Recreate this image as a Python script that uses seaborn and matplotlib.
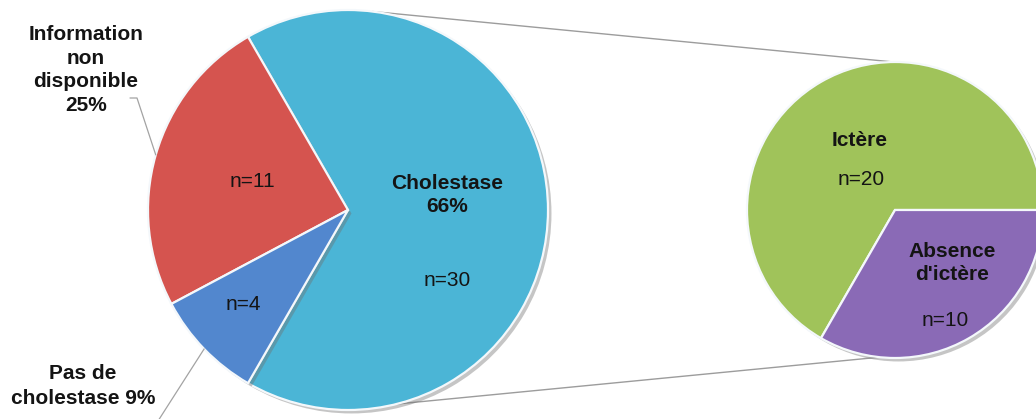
import matplotlib
matplotlib.use("Agg")
import matplotlib.pyplot as plt
import matplotlib.patheffects as pe
import numpy as np
import seaborn as sns

# Répartition des patients (camembert principal)
main_labels = ["Cholestase", "Information\nnon\ndisponible", "Pas de\ncholestase"]
main_counts = [30, 11, 4]
main_pcts = [66, 25, 9]

# Détail des patients avec cholestase (camembert secondaire)
sub_labels = ["Ictère", "Absence\nd'ictère"]
sub_counts = [20, 10]

main_colors = ["#4BB5D6", "#D5544F", "#5287CE"]
sub_colors = ["#A0C35A", "#8A6AB6"]

sns.set_theme(style="white")
plt.rcParams["font.family"] = ["Liberation Sans", "DejaVu Sans"]

W, H = 1036, 419
fig = plt.figure(figsize=(W / 100, H / 100), dpi=100)
ax = fig.add_axes([0, 0, 1, 1])


def px(x, y):
    """Canvas position measured from the top-left corner."""
    return x, H - y


main_c = px(348, 210)
main_r = 200
sub_c = px(895, 210)
sub_r = 148

shadow = [pe.SimplePatchShadow(offset=(2.5, -2.5), shadow_rgbFace="#6f6f6f", alpha=0.4),
          pe.Normal()]
wedge_style = dict(edgecolor="#F4F8FB", linewidth=1.6, path_effects=shadow)

main_wedges, _ = ax.pie(main_counts, colors=main_colors, startangle=240,
                        counterclock=True, center=main_c, radius=main_r,
                        wedgeprops=wedge_style)
sub_wedges, _ = ax.pie(sub_counts, colors=sub_colors, startangle=0,
                       counterclock=True, center=sub_c, radius=sub_r,
                       wedgeprops=wedge_style)


def on_circle(center, r, deg):
    a = np.deg2rad(deg)
    return center[0] + r * np.cos(a), center[1] + r * np.sin(a)


# Lines joining the cholestase slice to the secondary pie
line_kw = dict(color="#9C9C9C", lw=1.0, zorder=0.5)
for a_main, a_sub in [(83, 90.5), (-76, 264)]:
    p0 = on_circle(main_c, main_r, a_main)
    p1 = on_circle(sub_c, sub_r, a_sub)
    ax.plot([p0[0], p1[0]], [p0[1], p1[1]], **line_kw)

txt = dict(color="#141414", ha="center", va="center", fontsize=15)
bold = dict(txt, fontweight="bold")

# Outside labels with leader lines
w_info = main_wedges[1]
mid = 0.5 * (w_info.theta1 + w_info.theta2)
p_edge = on_circle(main_c, main_r, mid)
ax.plot([px(130, 98)[0], px(137, 98)[0], p_edge[0]],
        [px(130, 98)[1], px(137, 98)[1], p_edge[1]], color="#A3A3A3", lw=0.9)
ax.text(*px(86, 70), f"{main_labels[1]}\n{main_pcts[1]}%", linespacing=1.33, **bold)

w_pas = main_wedges[2]
mid = 0.5 * (w_pas.theta1 + w_pas.theta2)
p_edge = on_circle(main_c, main_r, mid)
ax.plot([p_edge[0], px(158, 421)[0]], [p_edge[1], px(158, 421)[1]],
        color="#A3A3A3", lw=0.9)
ax.text(*px(83, 386), f"{main_labels[2]} {main_pcts[2]}%", linespacing=1.35, **bold)

# Inside labels, main pie
ax.text(*px(447, 195), f"{main_labels[0]}\n{main_pcts[0]}%", linespacing=1.3, **bold)
ax.text(*px(447, 280), f"n={main_counts[0]}", **txt)
ax.text(*px(252, 182), f"n={main_counts[1]}", **txt)
ax.text(*px(243, 305), f"n={main_counts[2]}", **txt)

# Inside labels, secondary pie
ax.text(*px(860, 140), sub_labels[0], **bold)
ax.text(*px(861, 180), f"n={sub_counts[0]}", **txt)
ax.text(*px(952, 263), sub_labels[1], linespacing=1.3, **bold)
ax.text(*px(945, 321), f"n={sub_counts[1]}", **txt)

ax.set_xlim(0, W)
ax.set_ylim(0, H)
ax.set_aspect("equal")
ax.axis("off")

fig.savefig("out.png", dpi=100, facecolor="white")
